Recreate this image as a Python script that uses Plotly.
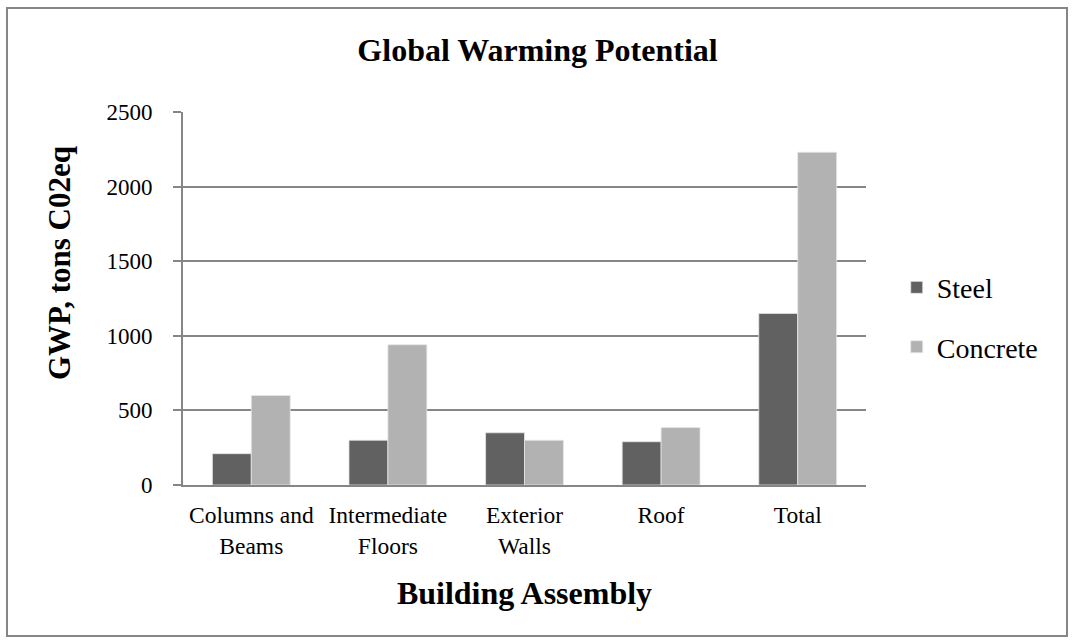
import plotly.graph_objects as go

categories = ["Columns and<br>Beams", "Intermediate<br>Floors", "Exterior<br>Walls", "Roof", "Total"]
steel = [210, 300, 350, 290, 1150]
concrete = [600, 940, 300, 385, 2230]
y_ticks = [0, 500, 1000, 1500, 2000, 2500]

FONT = "Liberation Serif"
AXIS_GRAY = "#868686"

fig = go.Figure()
fig.add_trace(go.Bar(
    name="Steel", x=categories, y=steel,
    marker=dict(color="#616161", line=dict(color="#e6e6e6", width=0.8)),
    legendgroup="steel",
))
fig.add_trace(go.Bar(
    name="Concrete", x=categories, y=concrete,
    marker=dict(color="#b2b2b2", line=dict(color="#e6e6e6", width=0.8)),
    legendgroup="concrete",
))

fig.update_layout(
    width=1075, height=643,
    margin=dict(l=183, r=209, t=112, b=158),
    paper_bgcolor="white", plot_bgcolor="white",
    font=dict(family=FONT, color="black", size=22),
    barmode="group", bargap=0.43, bargroupgap=0,
    title=dict(text="<b>Global Warming Potential</b>", x=0.5, xanchor="center",
               y=0.922, yanchor="middle", font=dict(family=FONT, size=32)),
    legend=dict(x=1.045, xanchor="left", y=0.45, yanchor="middle",
                font=dict(family=FONT, size=28), tracegroupgap=20,
                bgcolor="rgba(0,0,0,0)", itemwidth=30),
    showlegend=True,
)

fig.update_xaxes(
    showline=True, linecolor=AXIS_GRAY, linewidth=2,
    ticks="", tickfont=dict(family=FONT, size=23.5), ticklabelstandoff=8,
    title=dict(text="<b>Building Assembly</b>", font=dict(family=FONT, size=32), standoff=24),
)
fig.update_yaxes(
    range=[0, 2500], tickvals=y_ticks, ticktext=[str(v) for v in y_ticks],
    showline=True, linecolor=AXIS_GRAY, linewidth=2,
    ticks="outside", ticklen=8, tickcolor=AXIS_GRAY, tickwidth=2,
    showgrid=True, gridcolor=AXIS_GRAY, gridwidth=2, zeroline=False,
    tickfont=dict(family=FONT, size=23), ticklabelstandoff=16,
)

# vertical axis title, set a little above the plot's midline
fig.add_annotation(
    text="<b>GWP, tons C02eq</b>", textangle=-90, showarrow=False,
    xref="paper", yref="paper", x=(59 - 183) / 683, y=(485 - 263) / 373,
    xanchor="center", yanchor="middle", font=dict(family=FONT, size=31),
)

# outer chart frame
fig.add_shape(type="rect", xref="paper", yref="paper",
              x0=-0.2577, x1=1.2943, y0=-0.405, y1=1.279,
              line=dict(color=AXIS_GRAY, width=2), layer="below")

fig.write_html("out.html")
